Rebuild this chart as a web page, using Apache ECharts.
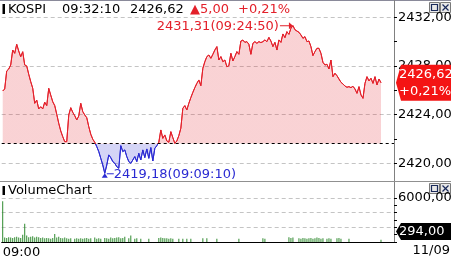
<!DOCTYPE html>
<html><head><meta charset="utf-8">
<script src="https://cdn.jsdelivr.net/npm/echarts@6/dist/echarts.min.js"></script>
<style>html,body{margin:0;padding:0;background:#fff;overflow:hidden}#c{width:451px;height:261px;}</style>
</head><body><div id="c"></div>
<script>
// ---- data ----
const indexName = 'KOSPI';
const quoteTime = '09:32:10';
const tradeDate = '11/09';
const prevClose = 2421.62;
const lastPrice = 2426.62;
const change = 5.00;
const changePct = 0.21;
const startTime = '09:00:40';
const stepSeconds = 10;
const slotCount = 196;
const priceTicks = [2420, 2424, 2428, 2432];
const volumeTicks = [0, 2000, 4000, 6000];
const prices = [
 2425.94,2426.11,2427.59,2427.75,2428.08,2429.31,2429.04,2429.78,2429.23,2428.76,
 2429.17,2428.08,2428.00,2427.32,2426.71,2426.17,2424.93,2425.20,2424.47,2424.65,
 2424.47,2425.02,2424.74,2426.16,2425.60,2425.06,2424.74,2424.03,2423.29,2422.66,
 2422.19,2421.78,2421.78,2423.97,2424.57,2424.19,2423.91,2423.56,2423.89,2424.93,
 2424.25,2423.97,2423.75,2423.01,2422.39,2421.98,2421.73,2421.37,2420.96,2420.41,
 2419.86,2419.18,2419.86,2420.69,2420.46,2420.14,2420.00,2419.72,2419.59,2421.45,
 2420.96,2421.10,2420.55,2420.14,2420.00,2420.27,2420.55,2420.14,2420.82,2420.27,
 2421.10,2420.47,2421.18,2420.41,2421.29,2420.19,2421.23,2421.45,2421.73,2422.74,
 2422.05,2422.33,2421.84,2421.73,2422.60,2422.11,2421.64,2421.84,2422.27,2422.88,
 2424.52,2424.74,2424.38,2424.93,2425.40,2425.83,2426.22,2426.57,2426.85,2426.38,
 2427.81,2428.35,2428.77,2428.90,2428.63,2428.96,2429.31,2429.59,2428.49,2428.77,
 2428.35,2428.49,2427.94,2428.02,2429.04,2428.41,2428.77,2429.18,2428.96,2430.05,
 2430.13,2429.94,2430.00,2429.78,2428.96,2429.86,2430.00,2429.86,2430.00,2429.92,
 2430.00,2430.14,2430.00,2430.35,2430.05,2429.59,2429.94,2429.31,2430.14,2429.94,
 2430.63,2430.33,2430.82,2430.60,2431.09,2431.31,2430.98,2430.87,2430.77,2430.55,
 2430.27,2430.41,2430.00,2430.05,2429.59,2428.85,2429.18,2429.45,2429.45,2429.04,
 2428.30,2428.08,2428.14,2427.75,2428.49,2427.12,2427.40,2427.20,2426.93,2426.66,
 2426.52,2426.35,2426.25,2426.30,2426.22,2426.33,2426.11,2425.75,2426.30,2425.62,
 2425.34,2426.57,2427.12,2426.77,2426.99,2426.57,2427.12,2426.44,2426.93,2426.62
];
const volumes = [
 5550,600,550,650,600,550,650,700,600,550,
 1000,2500,900,650,700,800,600,700,650,550,
 600,500,550,500,450,550,1100,600,700,550,
 500,600,500,450,500,0,450,500,450,500,
 450,500,550,450,500,0,600,450,500,450,
 0,550,500,450,600,500,550,600,650,500,
 550,700,0,500,900,0,450,500,0,450,
 0,0,0,450,0,0,0,0,550,600,
 550,500,500,450,500,450,0,0,450,0,
 450,0,450,0,450,0,0,0,0,0,
 500,0,500,0,0,0,0,450,0,0,
 0,0,0,0,0,0,0,0,450,0,
 0,0,0,0,0,0,0,0,0,0,
 500,450,0,0,0,0,0,0,0,0,
 0,0,0,650,550,600,0,0,500,450,
 550,500,450,500,550,450,500,600,550,450,
 500,0,450,500,450,0,0,500,550,450,
 0,0,0,450,0,0,0,0,0,0,
 0,0,0,0,0,0,0,0,0,294
];

// ---- helpers ----
const FONT = "'DejaVu Sans', sans-serif";
const RED = '#e3202a', BLUE = '#2a2ad2', GREEN = '#2f8a2f';
const fmt = v => v.toFixed(2).replace('.', ',');
function toSec(t){const p=t.split(':').map(Number);return p[0]*3600+p[1]*60+p[2];}
function toStr(s){const h=Math.floor(s/3600),m=Math.floor(s%3600/60),x=s%60;return [h,m,x].map(n=>String(n).padStart(2,'0')).join(':');}
const categories = [];
for (let i=0;i<slotCount;i++) categories.push(toStr(toSec(startTime)+i*stepSeconds));
const lastCat = categories[slotCount-1];
const maxV = Math.max(...prices), minV = Math.min(...prices);
const maxIdx = prices.indexOf(maxV), minIdx = prices.indexOf(minV);
const lastVol = volumes[volumes.length-1];

const chart = echarts.init(document.getElementById('c'), null, {renderer:'canvas'});
const axisLblCommon = {color:'#000', fontSize:13, fontFamily:FONT};
const tagPath = 'path://M0,18 L5,0 L56,0 L56,36 L5,36 Z';

const staticGraphics = [
    {type:'line', shape:{x1:0,y1:0.5,x2:451,y2:0.5}, style:{stroke:'#8a8a9a', lineWidth:1}},
    {type:'line', shape:{x1:394.5,y1:0,x2:394.5,y2:242}, style:{stroke:'#808080', lineWidth:1}},
    {type:'line', shape:{x1:0,y1:181.5,x2:451,y2:181.5}, style:{stroke:'#909090', lineWidth:1}},
    {type:'rect', shape:{x:2.5,y:4,width:2.5,height:10}, style:{fill:'#000'}},
    {type:'text', x:8, y:10, style:{text:indexName, fill:'#000', fontSize:13, fontFamily:FONT, verticalAlign:'middle'}},
    {type:'text', x:62, y:10, style:{text:quoteTime, fill:'#000', fontSize:13, fontFamily:FONT, verticalAlign:'middle'}},
    {type:'text', x:130, y:10, style:{text:fmt(lastPrice), fill:'#000', fontSize:13, fontFamily:FONT, verticalAlign:'middle'}},
    {type:'text', x:190, y:10, style:{text:'\u25B2'+fmt(change), fill:RED, fontSize:13, fontFamily:FONT, verticalAlign:'middle'}},
    {type:'text', x:238, y:10, style:{text:'+'+fmt(changePct)+'%', fill:RED, fontSize:13, fontFamily:FONT, verticalAlign:'middle'}},
    {type:'rect', shape:{x:2.5,y:186,width:2.5,height:9}, style:{fill:'#000'}},
    {type:'text', x:8, y:191, style:{text:'VolumeChart', fill:'#000', fontSize:13, fontFamily:FONT, verticalAlign:'middle'}},
    {type:'text', x:450, y:251, style:{text:tradeDate, fill:'#000', fontSize:13, fontFamily:FONT, verticalAlign:'middle', align:'right'}},
    {type:'rect', shape:{x:429.5,y:2.5,width:10,height:10}, style:{fill:'#e8e8e8', stroke:'#7a7a7a'}},
    {type:'rect', shape:{x:431.5,y:4.5,width:6,height:6}, style:{fill:'none', stroke:'#1a2a5a', lineWidth:1.2}},
    {type:'rect', shape:{x:440.5,y:2.5,width:10,height:10}, style:{fill:'#e8e8e8', stroke:'#7a7a7a'}},
    {type:'polyline', shape:{points:[[442.5,4.5],[448.5,10.5]]}, style:{stroke:'#1a2a5a', lineWidth:1.2}},
    {type:'polyline', shape:{points:[[448.5,4.5],[442.5,10.5]]}, style:{stroke:'#1a2a5a', lineWidth:1.2}},
    {type:'rect', shape:{x:429.5,y:183.5,width:10,height:10}, style:{fill:'#e8e8e8', stroke:'#7a7a7a'}},
    {type:'rect', shape:{x:431.5,y:185.5,width:6,height:6}, style:{fill:'none', stroke:'#1a2a5a', lineWidth:1.2}},
    {type:'rect', shape:{x:440.5,y:183.5,width:10,height:10}, style:{fill:'#e8e8e8', stroke:'#7a7a7a'}},
    {type:'polyline', shape:{points:[[442.5,185.5],[448.5,191.5]]}, style:{stroke:'#1a2a5a', lineWidth:1.2}},
    {type:'polyline', shape:{points:[[448.5,185.5],[442.5,191.5]]}, style:{stroke:'#1a2a5a', lineWidth:1.2}}
];

chart.setOption({
  animation:false,
  textStyle:{fontFamily:FONT},
  grid:[
    {left:1.7, width:392.3, top:17.3, height:146, outerBoundsMode:'none', containLabel:false},
    {left:1.7, width:392.3, top:198, height:44, outerBoundsMode:'none', containLabel:false}
  ],
  visualMap:{type:'piecewise', show:false, seriesIndex:0, dimension:1,
    pieces:[{gte:2400, lt:prevClose, color:BLUE},{gte:prevClose, lte:2450, color:RED}],
    outOfRange:{color:RED}},
  xAxis:[
    {type:'category', gridIndex:0, data:categories, boundaryGap:true, show:false},
    {type:'category', gridIndex:1, data:categories, boundaryGap:true,
      axisLine:{show:true, lineStyle:{color:'#000', width:1}}, axisTick:{show:false},
      axisLabel:Object.assign({interval:(i)=>i===0, formatter:(v)=>v.slice(0,5), align:'left', margin:4}, axisLblCommon),
      splitLine:{show:false}}
  ],
  yAxis:[
    {type:'value', gridIndex:0, position:'right', min:priceTicks[0], max:priceTicks[priceTicks.length-1], interval:priceTicks[1]-priceTicks[0],
      axisLine:{show:false}, axisTick:{show:true, length:3, lineStyle:{color:'#000'}},
      minorTick:{show:true, splitNumber:2, length:3, lineStyle:{color:'#000'}},
      axisLabel:Object.assign({formatter:fmt, margin:4}, axisLblCommon),
      splitLine:{show:true, lineStyle:{type:[4,3], color:'#c4c4c4'}}},
    {type:'value', gridIndex:1, position:'right', min:volumeTicks[0], max:volumeTicks[volumeTicks.length-1], interval:volumeTicks[1]-volumeTicks[0],
      axisLine:{show:false}, axisTick:{show:true, length:3, lineStyle:{color:'#000'}},
      minorTick:{show:true, splitNumber:2, length:3, lineStyle:{color:'#000'}},
      axisLabel:Object.assign({formatter:(v)=> v===volumeTicks[volumeTicks.length-1] ? fmt(v) : '', margin:4}, axisLblCommon),
      splitLine:{show:true, lineStyle:{type:[4,3], color:'#c4c4c4'}}}
  ],
  series:[
    {type:'line', xAxisIndex:0, yAxisIndex:0, data:prices, symbol:'none', clip:false,
      lineStyle:{width:1}, areaStyle:{origin:prevClose, opacity:0.2},
      markLine:{silent:true, symbol:'none', label:{show:false}, animation:false,
        lineStyle:{color:'#000', type:[3,3], width:1}, data:[{yAxis:prevClose}]},
      markPoint:{silent:true, animation:false, data:[
        {name:'max', coord:[categories[maxIdx], maxV], symbol:'path://M0,3 L9,3 L9,0 L13,3.5 L9,7 L9,4 L0,4 Z',
          symbolSize:[13,7], symbolOffset:[-6.5,0], itemStyle:{color:RED},
          label:{show:true, position:'left', distance:1, offset:[0,1], formatter:fmt(maxV)+'('+categories[maxIdx]+')', color:RED, fontSize:13, fontFamily:FONT}},
        {name:'last', coord:[lastCat, lastPrice], symbol:tagPath, symbolSize:[56,36], symbolOffset:[31,0],
          itemStyle:{color:'#f41414'},
          label:{show:true, position:'insideLeft', distance:3, formatter:fmt(lastPrice)+'\n+'+fmt(changePct)+'%', color:'#fff', fontSize:13, lineHeight:17, fontFamily:FONT}}
      ]}},
    {type:'bar', xAxisIndex:1, yAxisIndex:1, data:volumes, barWidth:1, itemStyle:{color:GREEN},
      markPoint:{silent:true, animation:false, data:[
        {name:'lastVol', coord:[lastCat, lastVol], symbol:tagPath, symbolSize:[56,17], symbolOffset:[31,-8.3],
          itemStyle:{color:'#000'},
          label:{show:true, position:'insideLeft', distance:3, formatter:fmt(lastVol), color:'#fff', fontSize:13, fontFamily:FONT}}
      ]}}
  ],
  graphic: staticGraphics
});

// Low-point annotation: the low lies under the axis minimum, so place it through the axis scale.
const lowPx = chart.convertToPixel({xAxisIndex:0, yAxisIndex:0}, [categories[minIdx], minV]);
chart.setOption({
  graphic: staticGraphics.concat([
    {type:'group', x:lowPx[0], y:lowPx[1], children:[
      {type:'polygon', shape:{points:[[0,0],[3,4.5],[-3,4.5]]}, style:{fill:BLUE}},
      {type:'rect', shape:{x:2,y:0,width:7,height:1}, style:{fill:BLUE}},
      {type:'text', x:9, y:1, style:{text:fmt(minV)+'('+categories[minIdx]+')', fill:BLUE, fontSize:13, fontFamily:FONT, verticalAlign:'middle'}}
    ]}
  ])
});
</script>
</body></html>
